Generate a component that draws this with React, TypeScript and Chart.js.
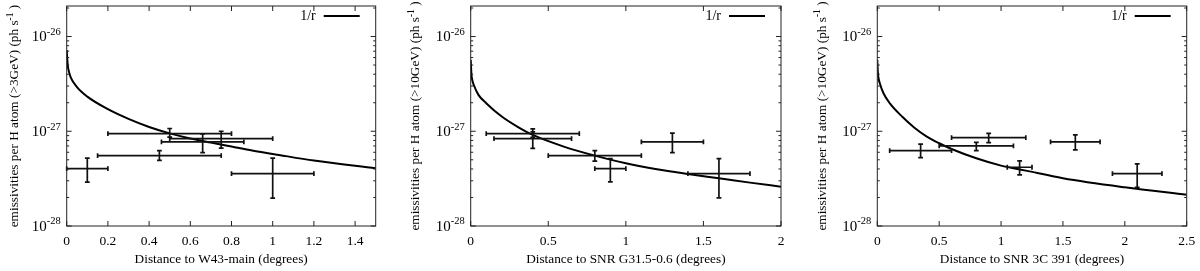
import React, { useEffect, useRef } from 'react';
import { Chart, registerables } from 'chart.js';

Chart.register(...registerables);

const FONT = '"Liberation Serif", "Times New Roman", serif';

// ---------- Panel 1: W43-main ----------
const p1CurveX = [0, 0.005, 0.01, 0.02, 0.05, 0.1, 0.2, 0.3, 0.4, 0.5, 0.6, 0.7, 0.8, 0.9, 1.0, 1.2, 1.5];
const p1CurveY = [7.2e-27, 5.0e-27, 4.34e-27, 3.69e-27, 2.92e-27, 2.32e-27, 1.71e-27, 1.35e-27, 1.11e-27, 9.5e-28, 8.4e-28, 7.6e-28, 6.9e-28, 6.25e-28, 5.77e-28, 4.9e-28, 4.06e-28];
const p1X = [0.1, 0.45, 0.5, 0.66, 0.75, 1.0];
const p1XLow = [0.0, 0.15, 0.2, 0.46, 0.5, 0.8];
const p1XHigh = [0.2, 0.75, 0.8, 0.86, 1.0, 1.2];
const p1Y = [4.04e-28, 5.53e-28, 9.46e-28, 7.73e-28, 8.38e-28, 3.57e-28];
const p1YLow = [2.9e-28, 4.94e-28, 8.67e-28, 5.96e-28, 6.64e-28, 1.97e-28];
const p1YHigh = [5.2e-28, 6.25e-28, 1.07e-27, 9.4e-28, 1.0e-27, 5.2e-28];
const p1XTicks = [0, 0.2, 0.4, 0.6, 0.8, 1.0, 1.2, 1.4];
const p1XTickLabels = ['0', '0.2', '0.4', '0.6', '0.8', '1', '1.2', '1.4'];
const p1XTitle = 'Distance to W43-main (degrees)';
const p1YTitle = 'emissivities per H atom (>3GeV) (ph s';

// ---------- Panel 2: SNR G31.5-0.6 ----------
const p2CurveX = [0, 0.005, 0.01, 0.02, 0.05, 0.1, 0.2, 0.3, 0.4, 0.6, 0.8, 1.0, 1.2, 1.4, 1.6, 1.8, 2.0];
const p2CurveY = [5.67e-27, 3.94e-27, 3.48e-27, 3.08e-27, 2.42e-27, 1.98e-27, 1.43e-27, 1.12e-27, 9.14e-28, 6.89e-28, 5.53e-28, 4.59e-28, 3.97e-28, 3.54e-28, 3.19e-28, 2.87e-28, 2.6e-28];
const p2X = [0.4, 0.4, 0.8, 0.9, 1.3, 1.6];
const p2XLow = [0.1, 0.15, 0.5, 0.8, 1.1, 1.4];
const p2XHigh = [0.7, 0.65, 1.1, 1.0, 1.5, 1.8];
const p2Y = [9.46e-28, 8.38e-28, 5.53e-28, 4.04e-28, 7.73e-28, 3.57e-28];
const p2YLow = [8.6e-28, 6.6e-28, 4.83e-28, 2.92e-28, 5.96e-28, 1.98e-28];
const p2YHigh = [1.06e-27, 9.86e-28, 6.25e-28, 5.15e-28, 9.55e-28, 5.15e-28];
const p2XTicks = [0, 0.5, 1, 1.5, 2];
const p2XTickLabels = ['0', '0.5', '1', '1.5', '2'];
const p2XTitle = 'Distance to SNR G31.5-0.6 (degrees)';
const p2YTitle = 'emissivities per H atom (>10GeV) (ph s';

// ---------- Panel 3: SNR 3C 391 ----------
const p3CurveX = [0, 0.005, 0.01, 0.02, 0.05, 0.1, 0.2, 0.3, 0.4, 0.5, 0.6, 0.8, 1.0, 1.2, 1.5, 2.0, 2.5];
const p3CurveY = [5.67e-27, 4.1e-27, 3.63e-27, 3.21e-27, 2.52e-27, 1.98e-27, 1.43e-27, 1.09e-27, 8.79e-28, 7.47e-28, 6.5e-28, 5.19e-28, 4.34e-28, 3.84e-28, 3.19e-28, 2.56e-28, 2.14e-28];
const p3X = [0.35, 0.8, 0.9, 1.15, 1.6, 2.1];
const p3XLow = [0.1, 0.5, 0.6, 1.05, 1.4, 1.9];
const p3XHigh = [0.6, 1.1, 1.2, 1.25, 1.8, 2.3];
const p3Y = [6.25e-28, 7.0e-28, 8.57e-28, 4.17e-28, 7.71e-28, 3.57e-28];
const p3YLow = [5.27e-28, 6.25e-28, 7.59e-28, 3.46e-28, 6.35e-28, 2.56e-28];
const p3YHigh = [7.3e-28, 7.65e-28, 9.5e-28, 4.86e-28, 9.14e-28, 4.52e-28];
const p3XTicks = [0, 0.5, 1, 1.5, 2, 2.5];
const p3XTickLabels = ['0', '0.5', '1', '1.5', '2', '2.5'];
const p3XTitle = 'Distance to SNR 3C 391 (degrees)';
const p3YTitle = 'emissivities per H atom (>10GeV) (ph s';

// ---------- shared axis ----------
const yMin = 1e-28;
const yMax = 2.1e-26;
const yMajorTicks = [1e-28, 1e-27, 1e-26];
const yMajorExp = ['-28', '-27', '-26'];
const legendLabel = '1/r';

type PanelCfg = {
  offset: number;
  left: number;
  right: number;
  xMax: number;
  curveX: number[];
  curveY: number[];
  px: number[];
  pxl: number[];
  pxh: number[];
  py: number[];
  pyl: number[];
  pyh: number[];
  xTicks: number[];
  xTickLabels: string[];
  xTitle: string;
  yTitle: string;
  yTitleX: number;
};

const panels: PanelCfg[] = [
  { offset: 0, left: 66.7, right: 375.7, xMax: 1.5, curveX: p1CurveX, curveY: p1CurveY, px: p1X, pxl: p1XLow, pxh: p1XHigh, py: p1Y, pyl: p1YLow, pyh: p1YHigh, xTicks: p1XTicks, xTickLabels: p1XTickLabels, xTitle: p1XTitle, yTitle: p1YTitle, yTitleX: 15 },
  { offset: 400, left: 70.7, right: 381, xMax: 2, curveX: p2CurveX, curveY: p2CurveY, px: p2X, pxl: p2XLow, pxh: p2XHigh, py: p2Y, pyl: p2YLow, pyh: p2YHigh, xTicks: p2XTicks, xTickLabels: p2XTickLabels, xTitle: p2XTitle, yTitle: p2YTitle, yTitleX: 15.7 },
  { offset: 800, left: 77.3, right: 386.7, xMax: 2.5, curveX: p3CurveX, curveY: p3CurveY, px: p3X, pxl: p3XLow, pxh: p3XHigh, py: p3Y, pyl: p3YLow, pyh: p3YHigh, xTicks: p3XTicks, xTickLabels: p3XTickLabels, xTitle: p3XTitle, yTitle: p3YTitle, yTitleX: 22.3 },
];

const W = 400;
const H = 271;
const TOP = 6;
const BOTTOM = 226;

function makePlugin(cfg: PanelCfg) {
  return {
    id: 'gnuplotDecor',
    afterDraw(chart: any) {
      const ctx: CanvasRenderingContext2D = chart.ctx;
      const xs = chart.scales.x;
      const ys = chart.scales.y;
      const a = chart.chartArea;
      ctx.save();

      // error bars
      ctx.strokeStyle = '#111';
      ctx.lineWidth = 1.7;
      const cap = 2.4;
      for (let i = 0; i < cfg.px.length; i++) {
        const cx = xs.getPixelForValue(cfg.px[i]);
        const cy = ys.getPixelForValue(cfg.py[i]);
        const xl = xs.getPixelForValue(cfg.pxl[i]);
        const xh = xs.getPixelForValue(cfg.pxh[i]);
        const yl = ys.getPixelForValue(cfg.pyl[i]);
        const yh = ys.getPixelForValue(cfg.pyh[i]);
        ctx.beginPath();
        ctx.moveTo(xl, cy); ctx.lineTo(xh, cy);
        ctx.moveTo(xl, cy - cap); ctx.lineTo(xl, cy + cap);
        ctx.moveTo(xh, cy - cap); ctx.lineTo(xh, cy + cap);
        ctx.moveTo(cx, yl); ctx.lineTo(cx, yh);
        ctx.moveTo(cx - cap, yl); ctx.lineTo(cx + cap, yl);
        ctx.moveTo(cx - cap, yh); ctx.lineTo(cx + cap, yh);
        ctx.stroke();
      }

      // frame
      ctx.strokeStyle = '#222';
      ctx.lineWidth = 1;
      ctx.strokeRect(a.left, a.top, a.right - a.left, a.bottom - a.top);

      // x ticks (inward, mirrored)
      ctx.beginPath();
      for (const t of cfg.xTicks) {
        const p = xs.getPixelForValue(t);
        ctx.moveTo(p, a.bottom); ctx.lineTo(p, a.bottom - 5);
        ctx.moveTo(p, a.top); ctx.lineTo(p, a.top + 5);
      }
      // y ticks major + minor
      for (const t of yMajorTicks) {
        const p = ys.getPixelForValue(t);
        ctx.moveTo(a.left, p); ctx.lineTo(a.left + 5, p);
        ctx.moveTo(a.right, p); ctx.lineTo(a.right - 5, p);
        for (let m = 2; m <= 9; m++) {
          const v = t * m;
          if (v > yMax) break;
          const q = ys.getPixelForValue(v);
          ctx.moveTo(a.left, q); ctx.lineTo(a.left + 2.5, q);
          ctx.moveTo(a.right, q); ctx.lineTo(a.right - 2.5, q);
        }
      }
      ctx.stroke();

      ctx.fillStyle = '#000';
      // x tick labels
      ctx.font = `13.5px ${FONT}`;
      ctx.textAlign = 'center';
      ctx.textBaseline = 'middle';
      cfg.xTicks.forEach((t, i) => {
        ctx.fillText(cfg.xTickLabels[i], xs.getPixelForValue(t), 241);
      });
      // x title
      ctx.font = `13.3px ${FONT}`;
      ctx.fillText(cfg.xTitle, (a.left + a.right) / 2, 260);

      // y tick labels 10^exp
      yMajorTicks.forEach((t, i) => {
        const p = ys.getPixelForValue(t);
        ctx.font = `10.5px ${FONT}`;
        const ws = ctx.measureText(yMajorExp[i]).width;
        ctx.font = `15px ${FONT}`;
        const wb = ctx.measureText('10').width;
        const xr = a.left - 6;
        ctx.textAlign = 'left';
        ctx.textBaseline = 'middle';
        ctx.fillText('10', xr - ws - wb, p + 1);
        ctx.font = `10.5px ${FONT}`;
        ctx.fillText(yMajorExp[i], xr - ws, p - 4.5);
      });

      // y title (rotated, with superscript)
      ctx.save();
      ctx.translate(cfg.yTitleX, (TOP + BOTTOM) / 2);
      ctx.rotate(-Math.PI / 2);
      ctx.textAlign = 'left';
      ctx.textBaseline = 'middle';
      ctx.font = `13.3px ${FONT}`;
      const w1 = ctx.measureText(cfg.yTitle).width;
      const w3 = ctx.measureText(' )').width;
      ctx.font = `9.5px ${FONT}`;
      const w2 = ctx.measureText('-1').width;
      const total = w1 + w2 + w3;
      const sx = -total / 2;
      ctx.font = `13.3px ${FONT}`;
      ctx.fillText(cfg.yTitle, sx, 0);
      ctx.font = `9.5px ${FONT}`;
      ctx.fillText('-1', sx + w1, -4.5);
      ctx.font = `13.3px ${FONT}`;
      ctx.fillText(' )', sx + w1 + w2, 0);
      ctx.restore();

      // legend
      ctx.font = `14px ${FONT}`;
      ctx.textAlign = 'right';
      ctx.textBaseline = 'middle';
      ctx.fillText(legendLabel, a.right - 60, 16);
      ctx.strokeStyle = '#000';
      ctx.lineWidth = 2;
      ctx.beginPath();
      ctx.moveTo(a.right - 52, 16);
      ctx.lineTo(a.right - 16, 16);
      ctx.stroke();

      ctx.restore();
    },
  };
}

function Panel({ cfg }: { cfg: PanelCfg }) {
  const ref = useRef<HTMLCanvasElement | null>(null);
  useEffect(() => {
    if (!ref.current) return;
    const chart = new Chart(ref.current, {
      type: 'line',
      data: {
        datasets: [
          {
            label: legendLabel,
            data: cfg.curveX.map((x, i) => ({ x, y: cfg.curveY[i] })),
            borderColor: '#000',
            borderWidth: 2,
            pointRadius: 0,
            fill: false,
            cubicInterpolationMode: 'monotone',
          },
          {
            label: 'data',
            data: cfg.px.map((x, i) => ({ x, y: cfg.py[i] })),
            showLine: false,
            pointRadius: 0,
            borderColor: '#000',
          },
        ],
      },
      options: {
        responsive: false,
        maintainAspectRatio: false,
        animation: false,
        devicePixelRatio: 1,
        layout: { padding: { left: cfg.left, right: W - cfg.right, top: TOP, bottom: H - BOTTOM } },
        plugins: { legend: { display: false }, tooltip: { enabled: false } },
        scales: {
          x: { type: 'linear', min: 0, max: cfg.xMax, display: false },
          y: { type: 'logarithmic', min: yMin, max: yMax, display: false },
        },
      },
      plugins: [makePlugin(cfg)],
    } as any);
    return () => chart.destroy();
  }, [cfg]);
  return (
    <canvas
      ref={ref}
      width={W}
      height={H}
      style={{ position: 'absolute', left: cfg.offset, top: 0, width: W, height: H }}
    />
  );
}

export default function App() {
  useEffect(() => {
    document.body.style.margin = '0';
    document.body.style.background = '#fff';
  }, []);
  return (
    <div style={{ position: 'relative', width: 1200, height: 271, background: '#fff', overflow: 'hidden' }}>
      {panels.map((p, i) => (
        <Panel key={i} cfg={p} />
      ))}
    </div>
  );
}
